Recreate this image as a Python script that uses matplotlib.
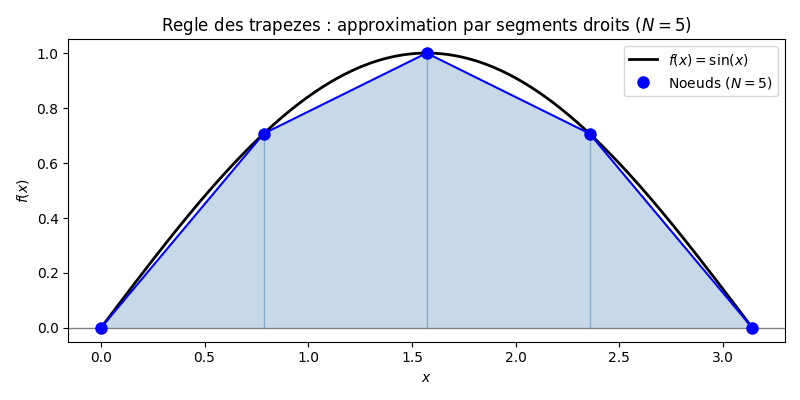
import numpy as np
import matplotlib
matplotlib.use("Agg")
import matplotlib.pyplot as plt

N = 5
x_nodes = [0.0, 0.7854, 1.5708, 2.3562, 3.1416]
y_nodes = [0.0, 0.7071, 1.0, 0.7071, 0.0]

x_curve = np.linspace(0, np.pi, 400)
y_curve = np.sin(x_curve)

fig, ax = plt.subplots(figsize=(8, 4), dpi=100)
ax.fill_between(x_nodes, y_nodes, 0, color="steelblue", alpha=0.3, linewidth=0)
for xn, yn in zip(x_nodes[1:-1], y_nodes[1:-1]):
    ax.plot([xn, xn], [0, yn], color="steelblue", alpha=0.5, linewidth=1)
ax.axhline(0, color="gray", linewidth=1)
ax.plot(x_curve, y_curve, color="black", linewidth=2, label=r"$f(x) = \sin(x)$")
ax.plot(x_nodes, y_nodes, color="blue", linewidth=1.5)
ax.plot(x_nodes, y_nodes, "o", color="blue", markersize=8, label=r"Noeuds ($N = 5$)")
ax.set_xlabel(r"$x$")
ax.set_ylabel(r"$f(x)$")
ax.set_title(r"Regle des trapezes : approximation par segments droits ($N = 5$)")
ax.legend(loc="upper right")
fig.tight_layout()
fig.savefig("out.png")
